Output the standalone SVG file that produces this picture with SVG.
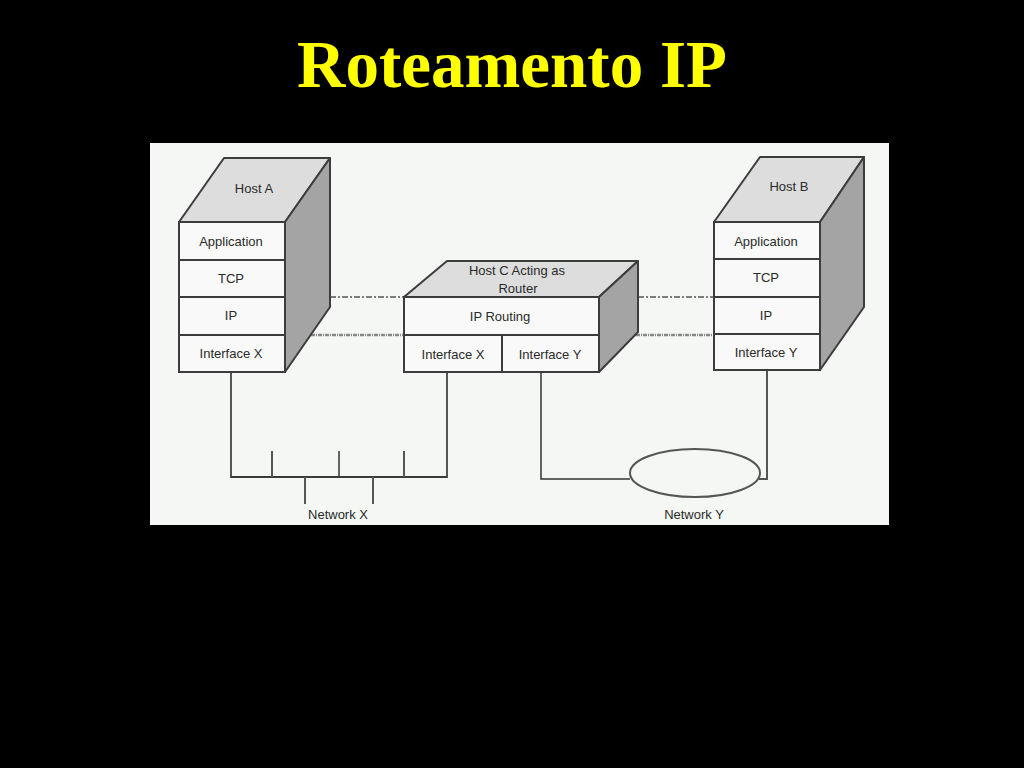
<svg xmlns="http://www.w3.org/2000/svg" width="1024" height="768" viewBox="0 0 1024 768">
<style>
.front{fill:#f8f9f8;stroke:#3c3c3c;stroke-width:2}
.top{fill:#dcdddc;stroke:#3c3c3c;stroke-width:2;stroke-linejoin:round}
.side{fill:#a4a4a4;stroke:#3c3c3c;stroke-width:2;stroke-linejoin:round}
.div{stroke:#3c3c3c;stroke-width:2}
.lbl{font-family:"Liberation Sans",Arial,sans-serif;font-size:13px;fill:#2a2a2a;text-anchor:middle}
.wire{fill:none;stroke:#555;stroke-width:2}
.thin{fill:none;stroke:#333;stroke-width:1.5}
.dash1{stroke:#555;stroke-width:1.5;stroke-dasharray:6 2 2 2}
.dash2{stroke:#888;stroke-width:2.5;stroke-dasharray:4 1 1 1}
</style>
<rect width="1024" height="768" fill="#000"/>
<text x="512" y="87" font-family="'Liberation Serif','Times New Roman',serif" font-weight="bold" font-size="67" fill="#ffff00" text-anchor="middle">Roteamento IP</text>
<rect x="150" y="143" width="739" height="382" fill="#f4f7f4"/>
<g id="connectors">
<line class="dash1" x1="330" y1="297" x2="404" y2="297"/>
<line class="dash1" x1="638" y1="297" x2="714" y2="297"/>
<line class="dash2" x1="311" y1="335" x2="404" y2="335"/>
<line class="dash2" x1="636" y1="335" x2="714" y2="335"/>
<polyline class="wire" points="231,372 231,477 447,477 447,372"/>
<line class="thin" x1="231" y1="477" x2="447" y2="477"/>
<line class="wire" x1="272" y1="451" x2="272" y2="477"/>
<line class="thin" x1="339" y1="451" x2="339" y2="477"/>
<line class="wire" x1="404" y1="451" x2="404" y2="477"/>
<line class="wire" x1="305" y1="477" x2="305" y2="504"/>
<line class="wire" x1="373" y1="477" x2="373" y2="504"/>
<polyline class="thin" points="541,372 541,479 630,479"/>
<polyline class="wire" points="759,479 767,479 767,370"/>
</g>
<g id="network-x">
<text class="lbl" x="338" y="519">Network X</text>
</g>
<g id="network-y">
<ellipse cx="695" cy="473" rx="65" ry="24" fill="none" stroke="#555" stroke-width="2"/>
<text class="lbl" x="694" y="519">Network Y</text>
</g>
<g id="host-a">
<polygon class="top" points="179,222 224,158 330,158 285,222"/>
<polygon class="side" points="285,222 330,158 330,307 285,372"/>
<rect class="front" x="179" y="222" width="106" height="150"/>
<line class="div" x1="179" y1="260" x2="285" y2="260"/>
<line class="div" x1="179" y1="297" x2="285" y2="297"/>
<line class="div" x1="179" y1="335" x2="285" y2="335"/>
<text class="lbl" x="254" y="193">Host A</text>
<text class="lbl" x="231" y="246">Application</text>
<text class="lbl" x="231" y="283">TCP</text>
<text class="lbl" x="231" y="320">IP</text>
<text class="lbl" x="231" y="358">Interface X</text>
</g>
<g id="host-c">
<polygon class="top" points="404,297 447,261 638,261 599,297"/>
<polygon class="side" points="599,297 638,261 638,332 599,372"/>
<rect class="front" x="404" y="297" width="195" height="75"/>
<line class="div" x1="404" y1="335" x2="599" y2="335"/>
<line class="div" x1="502" y1="335" x2="502" y2="372"/>
<text class="lbl" x="517" y="275">Host C Acting as</text>
<text class="lbl" x="518" y="293">Router</text>
<text class="lbl" x="500" y="321">IP Routing</text>
<text class="lbl" x="453" y="359">Interface X</text>
<text class="lbl" x="550" y="359">Interface Y</text>
</g>
<g id="host-b">
<polygon class="top" points="714,222 760,157 864,157 820,222"/>
<polygon class="side" points="820,222 864,157 864,307 820,370"/>
<rect class="front" x="714" y="222" width="106" height="148"/>
<line class="div" x1="714" y1="259" x2="820" y2="259"/>
<line class="div" x1="714" y1="297" x2="820" y2="297"/>
<line class="div" x1="714" y1="334" x2="820" y2="334"/>
<text class="lbl" x="789" y="191">Host B</text>
<text class="lbl" x="766" y="246">Application</text>
<text class="lbl" x="766" y="282">TCP</text>
<text class="lbl" x="766" y="320">IP</text>
<text class="lbl" x="766" y="357">Interface Y</text>
</g>
</svg>
